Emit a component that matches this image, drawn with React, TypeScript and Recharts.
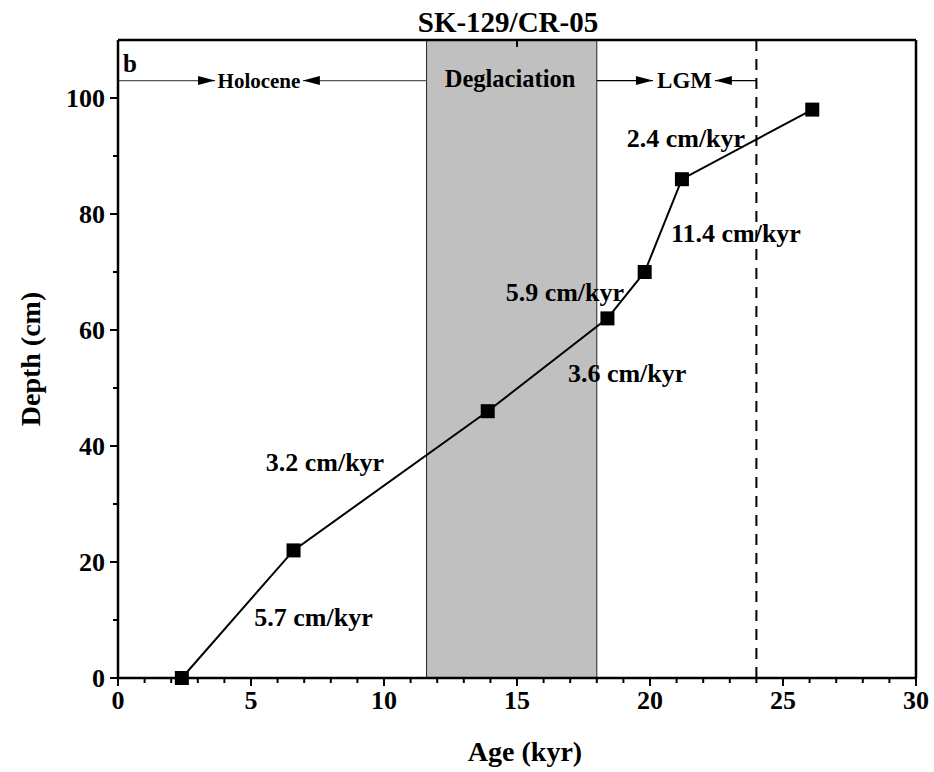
import React from 'react'
import { ComposedChart, Line, XAxis, YAxis, ReferenceArea, ReferenceLine, ReferenceDot } from 'recharts'

// age-depth tie points
const ages = [2.4, 6.6, 13.9, 18.4, 19.8, 21.2, 26.1]
const depths = [0, 22, 46, 62, 70, 86, 98]

const xTicks = [0, 1, 2, 3, 4, 5, 6, 7, 8, 9, 10, 11, 12, 13, 14, 15, 16, 17, 18, 19, 20, 21, 22, 23, 24, 25, 26, 27, 28, 29, 30]
const topTicks = [3, 6, 9, 12, 15, 18, 21, 24, 27]
const yTicks = [0, 10, 20, 30, 40, 50, 60, 70, 80, 90, 100]

const deglacStart = 11.6
const deglacEnd = 18
const lgmEnd = 24
const bandY = 103

// sedimentation-rate labels [x, y, text]
const rateLabels: [number, number, string][] = [
  [7.35, 10.5, '5.7 cm/kyr'],
  [7.78, 37.2, '3.2 cm/kyr'],
  [19.14, 52.7, '3.6 cm/kyr'],
  [16.8, 66.6, '5.9 cm/kyr'],
  [23.23, 76.8, '11.4 cm/kyr'],
  [21.35, 93.2, '2.4 cm/kyr'],
]

const data = ages.map((a, i) => ({ age: a, depth: depths[i] }))

const FONT = '"Liberation Serif", "Times New Roman", serif'

const BottomTick = ({ x, y, payload }: any) => {
  const major = payload.value % 5 === 0
  return (
    <g>
      <line x1={x} x2={x} y1={y} y2={y + (major ? 8 : 5)} stroke="#000" strokeWidth={2} />
      {major && (
        <text x={x} y={y + 31} textAnchor="middle" fontFamily={FONT} fontWeight="bold" fontSize={26} fill="#000">
          {payload.value}
        </text>
      )}
    </g>
  )
}

const TopTick = ({ x, y }: any) => <line x1={x} x2={x} y1={y} y2={y + 7} stroke="#000" strokeWidth={2} />

const LeftTick = ({ x, y, payload }: any) => {
  const major = payload.value % 20 === 0
  return (
    <g>
      <line x1={x} x2={x - (major ? 8 : 5)} y1={y} y2={y} stroke="#000" strokeWidth={2} />
      {major && (
        <text x={x - 13} y={y + 9} textAnchor="end" fontFamily={FONT} fontWeight="bold" fontSize={26} fill="#000">
          {payload.value}
        </text>
      )}
    </g>
  )
}

const RightTick = ({ x, y }: any) => <line x1={x} x2={x - 6} y1={y} y2={y} stroke="#000" strokeWidth={2} />

const Square = ({ cx, cy, index }: any) => <rect key={index} x={cx - 7} y={cy - 7} width={14} height={14} fill="#000" />

// line with arrow head at its end ('end') or start ('start')
const arrowShape = (at: 'end' | 'start', color: string) => (p: any) => {
  const tipX = at === 'end' ? p.x2 : p.x1
  const dir = at === 'end' ? 1 : -1
  const y = p.y1
  return (
    <g>
      <line x1={p.x1} y1={p.y1} x2={p.x2} y2={p.y2} stroke={color} strokeWidth={1.4} />
      <polygon points={`${tipX},${y} ${tipX - dir * 17},${y - 4.5} ${tipX - dir * 17},${y + 4.5}`} fill="#000" />
    </g>
  )
}

const txt = (size: number) => ({ fontFamily: FONT, fontWeight: 'bold', fontSize: size, fill: '#000' })

export default function App() {
  return (
    <div style={{ position: 'absolute', left: 0, top: 0, width: 934, height: 772, background: '#fff' }}>
      <div style={{ position: 'absolute', left: 0, width: 1016, top: 8, lineHeight: '29px', textAlign: 'center', fontFamily: FONT, fontWeight: 'bold', fontSize: 29 }}>
        SK-129/CR-05
      </div>
      <ComposedChart width={934} height={772} data={data} margin={{ top: 39, right: 17, bottom: 0, left: 0 }}>
        <XAxis xAxisId="x" dataKey="age" type="number" domain={[0, 30]} ticks={xTicks} interval={0} height={94}
          tickSize={0} tickMargin={0} tick={<BottomTick />} axisLine={{ stroke: '#000', strokeWidth: 2.5 }}
          label={{ value: 'Age (kyr)', position: 'center', dx: 8, dy: 26, ...txt(28) }} />
        <XAxis xAxisId="top" orientation="top" type="number" domain={[0, 30]} ticks={topTicks} interval={0} height={1}
          tickSize={0} tickMargin={0} tick={<TopTick />} axisLine={{ stroke: '#000', strokeWidth: 2.5 }} />
        <YAxis yAxisId="y" dataKey="depth" type="number" domain={[0, 110]} ticks={yTicks} interval={0} width={118}
          tickSize={0} tickMargin={0} tick={<LeftTick />} axisLine={{ stroke: '#000', strokeWidth: 2.5 }}
          label={{ value: 'Depth (cm)', angle: -90, position: 'center', dx: -29, ...txt(28) }} />
        <YAxis yAxisId="r" orientation="right" type="number" domain={[0, 110]} ticks={yTicks} interval={0} width={1}
          tickSize={0} tickMargin={0} tick={<RightTick />} axisLine={{ stroke: '#000', strokeWidth: 2.5 }} />

        <ReferenceArea xAxisId="x" yAxisId="y" x1={deglacStart} x2={deglacEnd} y1={0} y2={110}
          fill="#c0c0c0" fillOpacity={1} stroke="#222" strokeWidth={1} />
        <ReferenceLine xAxisId="x" yAxisId="y" x={lgmEnd} stroke="#000" strokeWidth={2} strokeDasharray="11 8" />

        <ReferenceLine xAxisId="x" yAxisId="y" segment={[{ x: 0, y: bandY }, { x: 3.65, y: bandY }]} shape={arrowShape('end', '#555')} />
        <ReferenceLine xAxisId="x" yAxisId="y" segment={[{ x: 6.95, y: bandY }, { x: deglacStart, y: bandY }]} shape={arrowShape('start', '#555')} />
        <ReferenceLine xAxisId="x" yAxisId="y" segment={[{ x: deglacEnd, y: bandY }, { x: 20.11, y: bandY }]} shape={arrowShape('end', '#000')} />
        <ReferenceLine xAxisId="x" yAxisId="y" segment={[{ x: 22.44, y: bandY }, { x: lgmEnd, y: bandY }]} shape={arrowShape('start', '#000')} />

        <ReferenceDot xAxisId="x" yAxisId="y" x={5.3} y={bandY} r={0} stroke="none" fill="none" label={{ value: 'Holocene', position: 'center', ...txt(21) }} />
        <ReferenceDot xAxisId="x" yAxisId="y" x={14.74} y={103.4} r={0} stroke="none" fill="none" label={{ value: 'Deglaciation', position: 'center', ...txt(24.5) }} />
        <ReferenceDot xAxisId="x" yAxisId="y" x={21.3} y={103.2} r={0} stroke="none" fill="none" label={{ value: 'LGM', position: 'center', ...txt(23) }} />
        <ReferenceDot xAxisId="x" yAxisId="y" x={0.45} y={106} r={0} stroke="none" fill="none" label={{ value: 'b', position: 'center', ...txt(25) }} />

        {rateLabels.map(([x, y, t]) => (
          <ReferenceDot key={t} xAxisId="x" yAxisId="y" x={x} y={y} r={0} stroke="none" fill="none" label={{ value: t, position: 'center', ...txt(26) }} />
        ))}

        <Line xAxisId="x" yAxisId="y" dataKey="depth" type="linear" stroke="#000" strokeWidth={2} dot={<Square />} activeDot={false} isAnimationActive={false} />
      </ComposedChart>
    </div>
  )
}
